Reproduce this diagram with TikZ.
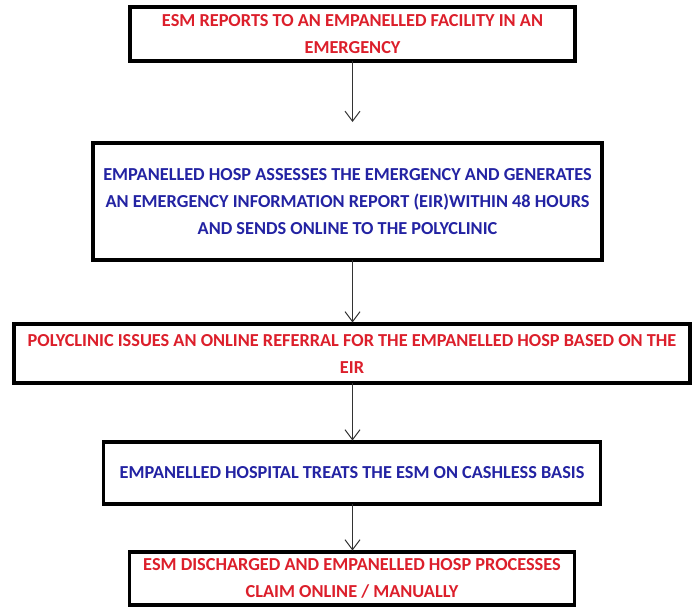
\documentclass[tikz,border=0pt]{standalone}
\usepackage{fontspec}
\setmainfont{Carlito}
\usetikzlibrary{arrows.meta,positioning}
\definecolor{esmred}{HTML}{DC1F2B}
\definecolor{esmblue}{HTML}{2323A3}
\definecolor{esmgrey}{HTML}{333333}

\begin{document}
\begin{tikzpicture}[
  x=1pt, y=1pt,
  box/.style={draw=black, line width=3.5pt, fill=white, outer sep=0pt,
    inner sep=0pt, align=center, font=\fontsize{18.3}{27}\selectfont\bfseries},
  redbox/.style={box, text=esmred},
  bluebox/.style={box, text=esmblue},
  arr/.style={-{Straight Barb[length=10pt, width=15pt]}, line width=1pt,
    esmgrey, shorten >=1.5pt}]
\useasboundingbox (0,0) rectangle (694,-608);
\node[redbox, minimum width=445pt, minimum height=54pt] (report) at (352.5,-34)
  {ESM REPORTS TO AN EMPANELLED FACILITY IN AN\\EMERGENCY};
\node[bluebox, below=82pt of report, xshift=-5pt, minimum width=509pt,
  minimum height=117pt] (assess)
  {EMPANELLED HOSP ASSESSES THE EMERGENCY AND GENERATES\\
   AN EMERGENCY INFORMATION REPORT (EIR)WITHIN 48 HOURS\\
   AND SENDS ONLINE TO THE POLYCLINIC};
\node[redbox, below=64pt of assess, xshift=4.5pt, minimum width=676pt,
  minimum height=59pt] (referral)
  {POLYCLINIC ISSUES AN ONLINE REFERRAL FOR THE EMPANELLED HOSP BASED ON THE\\EIR};
\node[bluebox, below=59pt of referral, minimum width=497pt,
  minimum height=62pt] (treat)
  {EMPANELLED HOSPITAL TREATS THE ESM ON CASHLESS BASIS};
\node[redbox, below=48pt of treat, minimum width=445pt,
  minimum height=53pt] (claim)
  {ESM DISCHARGED AND EMPANELLED HOSP PROCESSES\\CLAIM ONLINE / MANUALLY};
\draw[arr, shorten >=21pt] (report.south) -- (report.south |- assess.north);
\draw[arr] (report.south |- assess.south) -- (report.south |- referral.north);
\draw[arr] (report.south |- referral.south) -- (report.south |- treat.north);
\draw[arr] (report.south |- treat.south) -- (report.south |- claim.north);
\end{tikzpicture}
\end{document}
